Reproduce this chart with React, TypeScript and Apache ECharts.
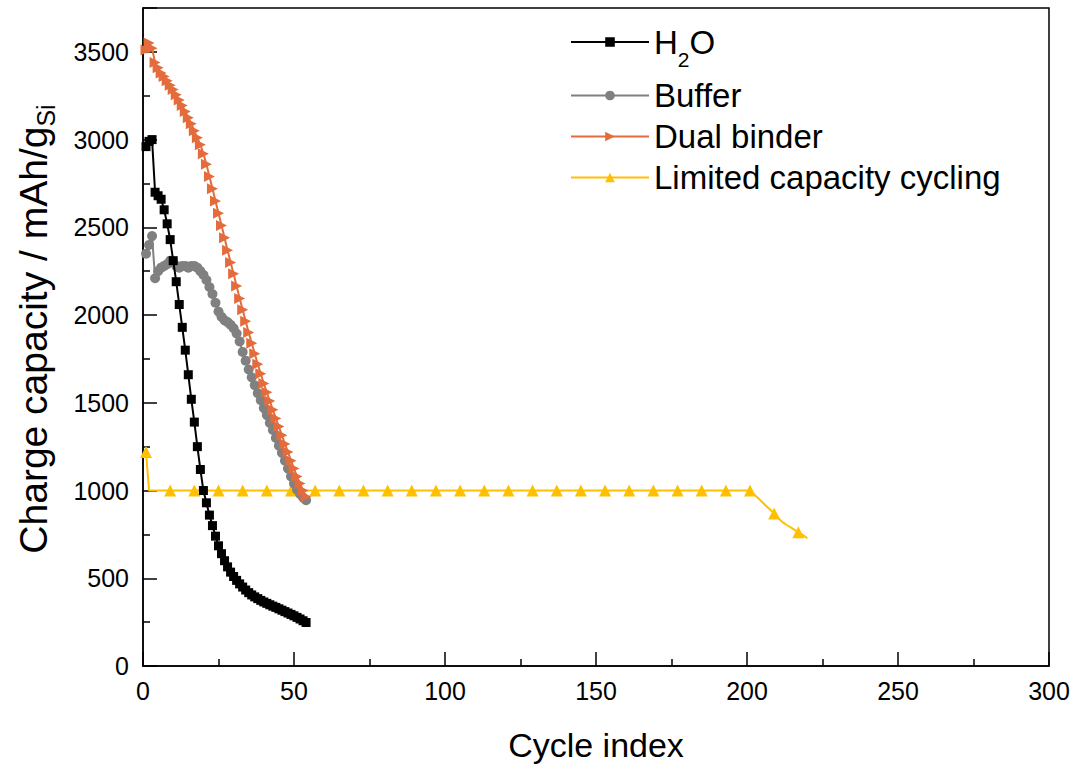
import React, { useEffect, useRef } from 'react';
import * as echarts from 'echarts';

// Cycle numbers of the first three data sets
const cycleIndex = [
  1, 2, 3, 4, 5, 6, 7, 8, 9, 10, 11, 12, 13, 14, 15, 16, 17, 18, 19, 20,
  21, 22, 23, 24, 25, 26, 27, 28, 29, 30, 31, 32, 33, 34, 35, 36, 37, 38, 39, 40,
  41, 42, 43, 44, 45, 46, 47, 48, 49, 50, 51, 52, 53, 54,
];

const h2oCapacity = [
  2960, 2990, 3000, 2700, 2680, 2660, 2600, 2520, 2430, 2310, 2190, 2060, 1930, 1800, 1660, 1520, 1390, 1250, 1120, 1000,
  930, 860, 800, 740, 685, 640, 600, 565, 535, 510, 488, 468, 450, 433, 418, 405, 394, 384, 374, 365,
  357, 349, 341, 334, 326, 318, 310, 302, 294, 286, 277, 268, 258, 248,
];

const bufferCapacity = [
  2350, 2400, 2450, 2210, 2250, 2270, 2280, 2290, 2310, 2300, 2280, 2270, 2280, 2280, 2270, 2280, 2280, 2270, 2250, 2230,
  2200, 2160, 2120, 2070, 2020, 1990, 1970, 1960, 1945, 1925, 1895, 1850, 1790, 1740, 1690, 1645, 1600, 1555, 1515, 1470,
  1430, 1385, 1345, 1300, 1255, 1215, 1170, 1125, 1080, 1040, 1005, 980, 960, 945,
];

const dualBinderCapacity = [
  3510, 3550, 3520, 3440, 3410, 3380, 3360, 3335, 3310, 3285, 3255, 3225, 3195, 3160, 3125, 3090, 3050, 3010, 2970, 2920,
  2860, 2790, 2720, 2650, 2580, 2510, 2440, 2370, 2300, 2235, 2165, 2095, 2030, 1965, 1900, 1840, 1780, 1720, 1665, 1610,
  1560, 1510, 1460, 1410, 1365, 1315, 1265, 1220, 1170, 1125, 1080, 1040, 1000, 965,
];

const limitedCycles = [
  1, 2, 9, 17, 25, 33, 41, 49, 57, 65, 73, 81, 89, 97, 105, 113, 121, 129, 137, 145, 153, 161, 169, 177, 185, 193, 201,
  202, 203, 204, 205, 206, 207, 208, 209, 210, 211, 212, 213, 214, 215, 216, 217, 218, 219, 220,
];
const limitedCapacity = [
  1220, 1000, 1000, 1000, 1000, 1000, 1000, 1000, 1000, 1000, 1000, 1000, 1000, 1000, 1000, 1000, 1000, 1000, 1000, 1000, 1000, 1000, 1000, 1000, 1000, 1000, 1000,
  985, 968, 952, 935, 918, 902, 886, 869, 850, 832, 817, 805, 795, 784, 773, 762, 752, 740, 728,
];

const seriesNames = ['H2O', 'Buffer', 'Dual binder', 'Limited capacity cycling'];
const seriesColors = ['#000000', '#808080', '#E46C3C', '#FFC000'];

const FONT = "'Liberation Sans', Arial, sans-serif";

export default function App() {
  const ref = useRef<HTMLDivElement>(null);

  useEffect(() => {
    document.body.style.margin = '0';
    if (!ref.current) return;
    const chart = echarts.init(ref.current, null, { renderer: 'svg' });

    const pairs = (xs: number[], ys: number[]) => xs.map((x, i) => [x, ys[i]]);

    chart.setOption({
      animation: false,
      textStyle: { fontFamily: FONT, color: '#000' },
      grid: {
        left: 143,
        right: 35,
        top: 8,
        bottom: 95,
        show: true,
        borderColor: '#000',
        borderWidth: 1.5,
        containLabel: false,
      },
      legend: {
        orient: 'vertical',
        left: 570,
        top: 13,
        padding: 0,
        itemWidth: 78,
        itemHeight: 12,
        itemGap: 8,
        data: seriesNames,
        formatter: (name: string) => (name === 'H2O' ? '{n|H}{s|2}{n|O}' : name),
        textStyle: {
          fontFamily: FONT,
          fontSize: 33,
          lineHeight: 32,
          color: '#000',
          rich: {
            n: { fontFamily: FONT, fontSize: 33, lineHeight: 58, color: '#000' },
            s: { fontFamily: FONT, fontSize: 21, lineHeight: 20, padding: [36, 0, 0, 0], verticalAlign: 'top', color: '#000' },
          },
        },
      },
      xAxis: {
        type: 'value',
        min: 0,
        max: 300,
        interval: 50,
        name: 'Cycle index',
        nameLocation: 'middle',
        nameGap: 62,
        nameTextStyle: { fontFamily: FONT, fontSize: 34, color: '#000' },
        axisLine: { show: true, lineStyle: { color: '#000', width: 1.5 } },
        axisTick: { show: true, inside: true, length: 14, lineStyle: { color: '#000', width: 1.5 } },
        minorTick: { show: true, splitNumber: 2, length: 7, lineStyle: { color: '#000', width: 1.5 } },
        splitLine: { show: false },
        axisLabel: { fontFamily: FONT, fontSize: 25, color: '#000', margin: 12 },
      },
      yAxis: {
        type: 'value',
        min: 0,
        max: 3750,
        interval: 500,
        name: '{a|Charge capacity / mAh/g}{b|Si}',
        nameLocation: 'middle',
        nameGap: 88,
        nameTextStyle: {
          fontFamily: FONT,
          fontSize: 39,
          color: '#000',
          padding: [0, 0, 0, 16],
          rich: {
            a: { fontFamily: FONT, fontSize: 39, lineHeight: 44, color: '#000' },
            b: { fontFamily: FONT, fontSize: 25, lineHeight: 20, padding: [22, 0, 0, 0], verticalAlign: 'top', color: '#000' },
          },
        },
        axisLine: { show: true, lineStyle: { color: '#000', width: 1.5 } },
        axisTick: { show: true, inside: true, length: 14, lineStyle: { color: '#000', width: 1.5 } },
        minorTick: { show: true, splitNumber: 2, length: 7, lineStyle: { color: '#000', width: 1.5 } },
        splitLine: { show: false },
        axisLabel: {
          fontFamily: FONT,
          fontSize: 25,
          color: '#000',
          margin: 14,
          showMaxLabel: false,
          formatter: (v: number) => String(v),
        },
      },
      series: [
        {
          name: 'H2O',
          type: 'line',
          data: pairs(cycleIndex, h2oCapacity),
          symbol: 'rect',
          symbolSize: 9,
          showAllSymbol: true,
          itemStyle: { color: seriesColors[0] },
          lineStyle: { color: seriesColors[0], width: 2 },
          z: 6,
        },
        {
          name: 'Buffer',
          type: 'line',
          data: pairs(cycleIndex, bufferCapacity),
          symbol: 'circle',
          symbolSize: 10,
          showAllSymbol: true,
          itemStyle: { color: seriesColors[1] },
          lineStyle: { color: seriesColors[1], width: 2 },
          z: 3,
        },
        {
          name: 'Dual binder',
          type: 'line',
          data: pairs(cycleIndex, dualBinderCapacity),
          symbol: 'triangle',
          symbolRotate: -90,
          symbolSize: 11,
          showAllSymbol: true,
          itemStyle: { color: seriesColors[2] },
          lineStyle: { color: seriesColors[2], width: 2 },
          z: 4,
        },
        {
          name: 'Limited capacity cycling',
          type: 'line',
          data: pairs(limitedCycles, limitedCapacity),
          symbol: 'triangle',
          symbolSize: (val: number[]) => ((val[0] - 1) % 8 === 0 ? 12 : 0),
          showAllSymbol: true,
          itemStyle: { color: seriesColors[3] },
          lineStyle: { color: seriesColors[3], width: 2 },
          z: 2,
        },
      ],
    });

    return () => chart.dispose();
  }, []);

  return <div ref={ref} style={{ width: 1084, height: 767 }} />;
}
